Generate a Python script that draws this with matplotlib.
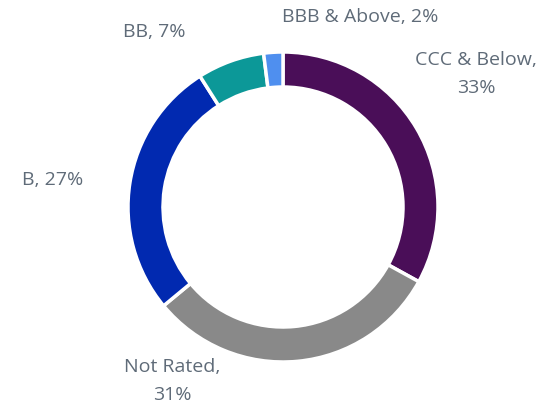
import matplotlib.pyplot as plt

# -------------------------------------------------
# Data
# -------------------------------------------------

categories = ["CCC & Below", "Not Rated", "B", "BB", "BBB & Above"]
shares = [33, 31, 27, 7, 2]
colors = ["#4A0E58", "#898989", "#0129B0", "#0C9898", "#4F8FEF"]

# label text positions in pixels (x, y from top)
label_pos = [(476, 74), (172, 381), (53, 180), (154, 32), (360, 17)]
label_text = ["CCC & Below,\n33%", "Not Rated,\n31%", "B, 27%", "BB, 7%", "BBB & Above, 2%"]

W, H = 539, 403

# -------------------------------------------------
# Plot
# -------------------------------------------------

fig = plt.figure(figsize=(W / 100, H / 100), dpi=100)
ax = fig.add_axes([0, 0, 1, 1])

ax.pie(
    shares,
    colors=colors,
    startangle=90,
    counterclock=False,
    center=(283, H - 207),
    radius=155,
    frame=True,
    wedgeprops=dict(width=35, edgecolor="white", linewidth=2.5),
)

for (x, y), txt in zip(label_pos, label_text):
    ax.text(x, H - y, txt, ha="center", va="center", fontsize=14,
            color="#5F6B78", family="Open Sans", linespacing=1.65)

ax.set_xlim(0, W)
ax.set_ylim(0, H)
ax.set_aspect("equal")
ax.axis("off")

fig.savefig("out.png", dpi=100)
